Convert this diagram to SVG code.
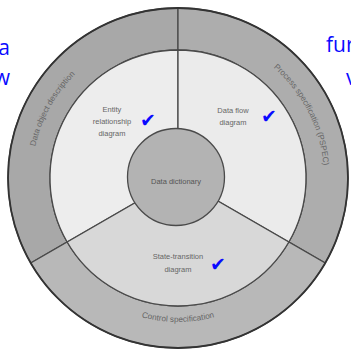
<svg xmlns="http://www.w3.org/2000/svg" width="351" height="353" viewBox="0 0 351 353">
<style>
.sec{stroke:#4a4a4a;stroke-width:1.3}
.lbl{font-family:"Liberation Sans",Arial,sans-serif;font-size:7.5px;fill:#666;text-anchor:middle}
.arc{font-size:8.2px}
.blue{font-family:"Open Sans","Liberation Sans",sans-serif;font-size:21px;fill:#0a0aff}
.chk{font-family:"DejaVu Sans",sans-serif;font-size:19px;fill:#0a0aff}
</style>
<defs>
<path id="arcL" d="M34.5 205.9 A146 146 0 0 1 125.1 42"/>
<path id="arcR" d="M235 43.6 A146 146 0 0 1 320.3 210.8"/>
<path id="arcB" d="M110.4 305.1 A144 144 0 0 0 245.6 305.1"/>
</defs>
<rect width="351" height="353" fill="#ffffff"/>
<g id="data-object-description">
<path class="sec" fill="#a8a8a8" d="M30.78 263 A170 170 0 0 1 178 8 L178 50 A128 128 0 0 0 67.15 242 Z"/>
<text class="lbl arc"><textPath href="#arcL" startOffset="50%">Data object description</textPath></text>
</g>
<g id="process-specification">
<path class="sec" fill="#adadad" d="M178 8 A170 170 0 0 1 325.22 263 L288.85 242 A128 128 0 0 0 178 50 Z"/>
<text class="lbl arc"><textPath href="#arcR" startOffset="50%">Process specification (PSPEC)</textPath></text>
</g>
<g id="control-specification">
<path class="sec" fill="#b8b8b8" d="M325.22 263 A170 170 0 0 1 30.78 263 L67.15 242 A128 128 0 0 0 288.85 242 Z"/>
<text class="lbl arc"><textPath href="#arcB" startOffset="50%">Control specification</textPath></text>
</g>
<g id="entity-relationship-diagram">
<path class="sec" fill="#ededed" d="M67.15 242 A128 128 0 0 1 178 50 L178 178 Z"/>
<text class="lbl" x="112" y="112">Entity</text>
<text class="lbl" x="112" y="124">relationship</text>
<text class="lbl" x="112" y="136">diagram</text>
<text class="chk" x="140" y="127">✔</text>
</g>
<g id="data-flow-diagram">
<path class="sec" fill="#ebebeb" d="M178 50 A128 128 0 0 1 288.85 242 L178 178 Z"/>
<text class="lbl" x="233" y="113">Data flow</text>
<text class="lbl" x="233" y="125">diagram</text>
<text class="chk" x="261" y="123">✔</text>
</g>
<g id="state-transition-diagram">
<path class="sec" fill="#d8d8d8" d="M288.85 242 A128 128 0 0 1 67.15 242 L178 178 Z"/>
<text class="lbl" x="178" y="259">State-transition</text>
<text class="lbl" x="178" y="272">diagram</text>
<text class="chk" x="210" y="271">✔</text>
</g>
<g id="data-dictionary">
<circle cx="176" cy="177" r="48.5" fill="#b3b3b3" stroke="#4a4a4a" stroke-width="1.3"/>
<text class="lbl" x="176" y="184" style="fill:#555">Data dictionary</text>
</g>
<circle cx="178" cy="178" r="170" fill="none" stroke="#333" stroke-width="1.8"/>
<g id="connectors"></g>
<g id="side-labels">
<text class="blue" x="10" y="55" text-anchor="end">a</text>
<text class="blue" x="10" y="85" text-anchor="end">w</text>
<text class="blue" x="326" y="52">fur</text>
<text class="blue" x="346" y="85">v</text>
</g>
</svg>
